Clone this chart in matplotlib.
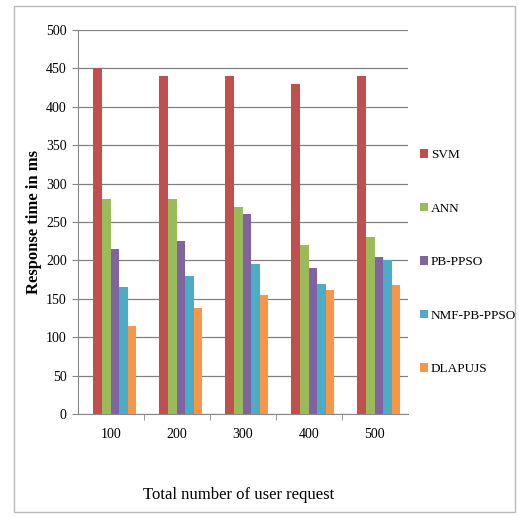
import matplotlib
matplotlib.use("Agg")
import matplotlib.pyplot as plt
import numpy as np
from matplotlib.patches import Rectangle

categories = ["100", "200", "300", "400", "500"]
series_names = ["SVM", "ANN", "PB-PPSO", "NMF-PB-PPSO", "DLAPUJS"]
svm = [450, 440, 440, 430, 440]
ann = [280, 280, 270, 220, 230]
pb_ppso = [215, 225, 260, 190, 205]
nmf_pb_ppso = [165, 180, 195, 170, 200]
dlapujs = [115, 138, 155, 162, 168]
colors = ["#C0504D", "#9BBB59", "#8064A2", "#4BACC6", "#F79646"]

plt.rcParams['font.family'] = ['Liberation Serif', 'DejaVu Serif']

fig = plt.figure(figsize=(5.19, 5.17), dpi=100)
ax = fig.add_axes([0.150, 0.199, 0.636, 0.743])

data = [svm, ann, pb_ppso, nmf_pb_ppso, dlapujs]
x = np.arange(len(categories))
w = 0.13
for i, (vals, name, c) in enumerate(zip(data, series_names, colors)):
    ax.bar(x + (i - 2) * w + 0.06, vals, width=w, color=c, label=name, zorder=3)

ax.set_xlim(-0.5, len(categories) - 0.5)
ax.set_ylim(0, 500)
ax.set_yticks(np.arange(0, 501, 50))
ax.set_xticks(x)
ax.set_xticklabels(categories, fontsize=10)
ax.set_xticks(np.arange(0.5, len(categories) - 0.5, 1), minor=True)
ax.tick_params(axis='x', which='major', length=0, pad=10)
ax.tick_params(axis='x', which='minor', length=4, color='#888888')
ax.tick_params(axis='y', length=4, color='#888888', labelsize=10, pad=4)
ax.yaxis.grid(True, color='#808080', linewidth=0.9, zorder=0)
for s in ['top', 'right']:
    ax.spines[s].set_visible(False)
for s in ['left', 'bottom']:
    ax.spines[s].set_color('#888888')

ax.set_ylabel("Response time in ms", fontsize=12, fontweight='bold', labelpad=3)
fig.text(0.46, 0.042, "Total number of user request", fontsize=12, ha='center', va='center')

fig.legend(loc='upper left', bbox_to_anchor=(0.80, 0.722), frameon=False,
           fontsize=9.5, handlelength=0.6, handleheight=0.6, handletextpad=0.2,
           labelspacing=3.15, borderaxespad=0)

fig.patches.append(Rectangle((0.027, 0.01), 0.965, 0.978, transform=fig.transFigure,
                             fill=False, edgecolor='#BBBBBB', linewidth=1))

fig.savefig("out.png", dpi=100)
